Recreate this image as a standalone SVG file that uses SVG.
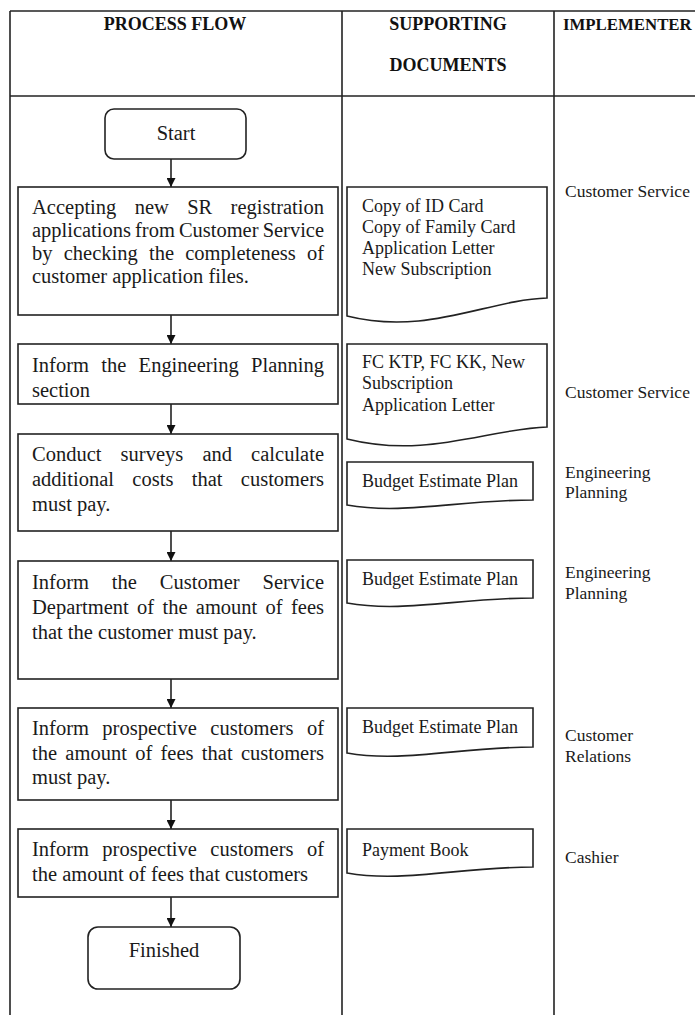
<svg xmlns="http://www.w3.org/2000/svg" width="695" height="1015" viewBox="0 0 695 1015">
<style>
.ln{stroke:#222;stroke-width:1.6;fill:none}
.bx{stroke:#222;stroke-width:1.6;fill:#fff}
.hd{font-family:"Liberation Serif","Times New Roman",serif;font-weight:bold;font-size:18px;fill:#111}
.pt{font-family:"Liberation Serif","Times New Roman",serif;font-size:20.5px;fill:#1a1a1a}
.dt{font-family:"Liberation Serif","Times New Roman",serif;font-size:18px;fill:#1a1a1a}
.it{font-family:"Liberation Serif","Times New Roman",serif;font-size:17.5px;fill:#1a1a1a}
.ar{stroke:#222;stroke-width:1.6;fill:none;marker-end:url(#ah)}
</style>
<defs>
<marker id="ah" viewBox="0 0 10 10" refX="10" refY="5" markerWidth="9" markerHeight="9" markerUnits="userSpaceOnUse" orient="auto">
<path d="M0,0 L10,5 L0,10 Z" fill="#111"/>
</marker>
</defs>
<rect width="695" height="1015" fill="#fff"/>
<g id="table">
<line class="ln" x1="10" y1="11" x2="700" y2="11"/>
<line class="ln" x1="10" y1="96" x2="700" y2="96"/>
<line class="ln" x1="10" y1="11" x2="10" y2="1015"/>
<line class="ln" x1="342" y1="11" x2="342" y2="1015"/>
<line class="ln" x1="554" y1="11" x2="554" y2="1015"/>
<text class="hd" x="175" y="30" text-anchor="middle">PROCESS FLOW</text>
<text class="hd" x="448" y="30" text-anchor="middle">SUPPORTING</text>
<text class="hd" x="448" y="71" text-anchor="middle">DOCUMENTS</text>
<text class="hd" x="563" y="30" style="font-size:16.8px">IMPLEMENTER</text>
</g>
<g id="connectors">
<line class="ar" x1="171" y1="159" x2="171" y2="187"/>
<line class="ar" x1="171" y1="315" x2="171" y2="344"/>
<line class="ar" x1="171" y1="404" x2="171" y2="434"/>
<line class="ar" x1="171" y1="531" x2="171" y2="561"/>
<line class="ar" x1="171" y1="679" x2="171" y2="708"/>
<line class="ar" x1="171" y1="800" x2="171" y2="829"/>
<line class="ar" x1="171" y1="897" x2="171" y2="927"/>
</g>
<g id="start">
<rect class="bx" x="105" y="109" width="141" height="50" rx="9"/>
<text class="pt" x="176" y="140" text-anchor="middle">Start</text>
</g>
<g id="step1">
<rect class="bx" x="18" y="187" width="320" height="128"/>
<text class="pt" x="32" y="214" word-spacing="13.2" textLength="292" lengthAdjust="spacing">Accepting new SR registration</text>
<text class="pt" x="32" y="237" word-spacing="-1" textLength="292" lengthAdjust="spacingAndGlyphs">applications from Customer Service</text>
<text class="pt" x="32" y="260" word-spacing="6.1" textLength="292" lengthAdjust="spacing">by checking the completeness of</text>
<text class="pt" x="32" y="283">customer application files.</text>
</g>
<g id="step2">
<rect class="bx" x="18" y="344" width="320" height="60"/>
<text class="pt" x="32" y="372" word-spacing="7.2" textLength="292" lengthAdjust="spacing">Inform the Engineering Planning</text>
<text class="pt" x="32" y="397">section</text>
</g>
<g id="step3">
<rect class="bx" x="18" y="434" width="320" height="97"/>
<text class="pt" x="32" y="461" word-spacing="14" textLength="292" lengthAdjust="spacing">Conduct surveys and calculate</text>
<text class="pt" x="32" y="486" word-spacing="13.2" textLength="292" lengthAdjust="spacing">additional costs that customers</text>
<text class="pt" x="32" y="511">must pay.</text>
</g>
<g id="step4">
<rect class="bx" x="18" y="561" width="320" height="118"/>
<text class="pt" x="32" y="589" word-spacing="17.8" textLength="292" lengthAdjust="spacing">Inform the Customer Service</text>
<text class="pt" x="32" y="614" word-spacing="3.2" textLength="292" lengthAdjust="spacing">Department of the amount of fees</text>
<text class="pt" x="32" y="639">that the customer must pay.</text>
</g>
<g id="step5">
<rect class="bx" x="18" y="708" width="320" height="92"/>
<text class="pt" x="32" y="735" word-spacing="8.3" textLength="292" lengthAdjust="spacing">Inform prospective customers of</text>
<text class="pt" x="32" y="760" word-spacing="3.2" textLength="292" lengthAdjust="spacing">the amount of fees that customers</text>
<text class="pt" x="32" y="784">must pay.</text>
</g>
<g id="step6">
<rect class="bx" x="18" y="829" width="320" height="68"/>
<text class="pt" x="32" y="856" word-spacing="8.3" textLength="292" lengthAdjust="spacing">Inform prospective customers of</text>
<text class="pt" x="32" y="881">the amount of fees that customers</text>
</g>
<g id="finished">
<rect class="bx" x="88" y="927" width="152" height="62" rx="10"/>
<text class="pt" x="164" y="957" text-anchor="middle">Finished</text>
</g>
<g id="doc1">
<path class="bx" d="M347,316 L347,187 L547,187 L547,298 C487,300 427,336 347,316 Z"/>
<text class="dt" x="362" y="212">Copy of ID Card</text>
<text class="dt" x="362" y="233">Copy of Family Card</text>
<text class="dt" x="362" y="254">Application Letter</text>
<text class="dt" x="362" y="275">New Subscription</text>
</g>
<g id="doc2">
<path class="bx" d="M347,439 L347,344 L547,344 L547,427 C487,429 427,459 347,439 Z"/>
<text class="dt" x="362" y="368">FC KTP, FC KK, New</text>
<text class="dt" x="362" y="389">Subscription</text>
<text class="dt" x="362" y="411">Application Letter</text>
</g>
<g id="doc3">
<path class="bx" d="M347,505 L347,462 L533,462 L533,500 C459,500 403,515 347,505 Z"/>
<text class="dt" x="362" y="487">Budget Estimate Plan</text>
</g>
<g id="doc4">
<path class="bx" d="M347,603 L347,560 L533,560 L533,598 C459,598 403,613 347,603 Z"/>
<text class="dt" x="362" y="585">Budget Estimate Plan</text>
</g>
<g id="doc5">
<path class="bx" d="M347,753 L347,708 L533,708 L533,747 C459,747 403,763 347,753 Z"/>
<text class="dt" x="362" y="733">Budget Estimate Plan</text>
</g>
<g id="doc6">
<path class="bx" d="M347,873 L347,829 L533,829 L533,867 C459,867 403,883 347,873 Z"/>
<text class="dt" x="362" y="856">Payment Book</text>
</g>
<g id="implementers">
<text class="it" x="565" y="197">Customer Service</text>
<text class="it" x="565" y="398">Customer Service</text>
<text class="it" x="565" y="478">Engineering</text>
<text class="it" x="565" y="498">Planning</text>
<text class="it" x="565" y="578">Engineering</text>
<text class="it" x="565" y="599">Planning</text>
<text class="it" x="565" y="741">Customer</text>
<text class="it" x="565" y="762">Relations</text>
<text class="it" x="565" y="863">Cashier</text>
</g>
</svg>
